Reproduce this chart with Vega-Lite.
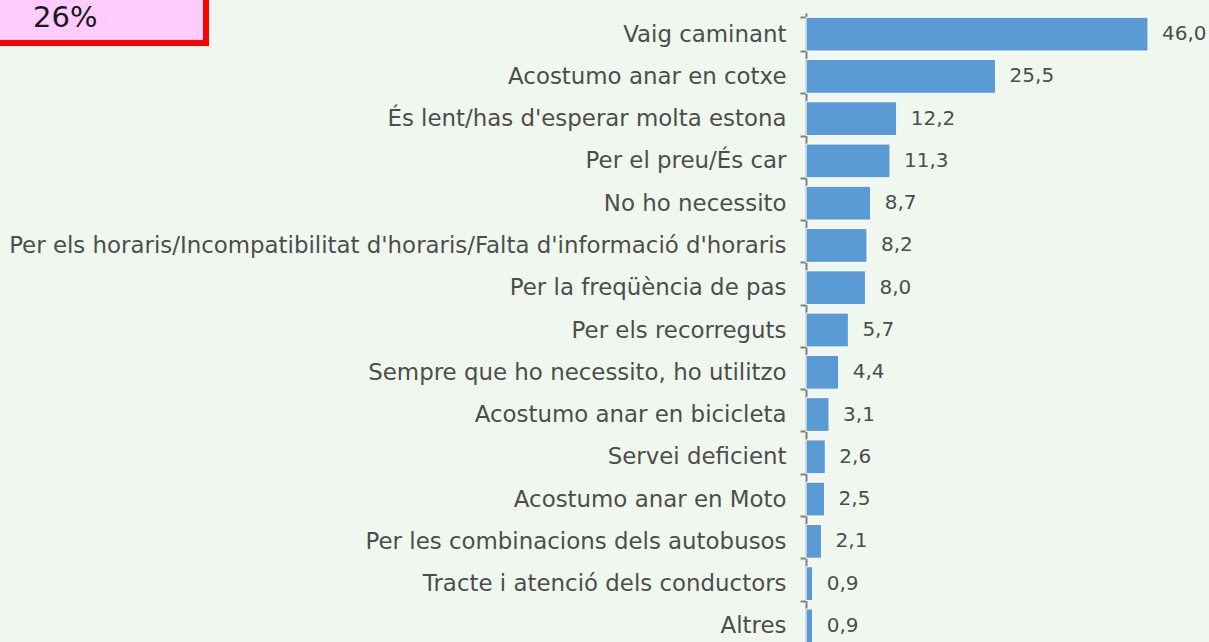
{
  "$schema": "https://vega.github.io/schema/vega-lite/v6.json",
  "autosize": {"type": "none"},
  "padding": {"left": 806, "top": 13, "right": 61, "bottom": 0},
  "width": 342,
  "height": 634,
  "background": "#f0f7ee",
  "config": {
    "locale": {"number": {"decimal": ",", "thousands": ".", "grouping": [3], "currency": ["", " €"]}},
    "view": {"stroke": null},
    "font": "DejaVu Sans",
    "legend": {"strokeWidth": 6}
  },
  "data": {
    "values": [
      {"motiu": "Vaig caminant", "pct": 46.0},
      {"motiu": "Acostumo anar en cotxe", "pct": 25.5},
      {"motiu": "És lent/has d'esperar molta estona", "pct": 12.2},
      {"motiu": "Per el preu/És car", "pct": 11.3},
      {"motiu": "No ho necessito", "pct": 8.7},
      {"motiu": "Per els horaris/Incompatibilitat d'horaris/Falta d'informació d'horaris", "pct": 8.2},
      {"motiu": "Per la freqüència de pas", "pct": 8.0},
      {"motiu": "Per els recorreguts", "pct": 5.7},
      {"motiu": "Sempre que ho necessito, ho utilitzo", "pct": 4.4},
      {"motiu": "Acostumo anar en bicicleta", "pct": 3.1},
      {"motiu": "Servei deficient", "pct": 2.6},
      {"motiu": "Acostumo anar en Moto", "pct": 2.5},
      {"motiu": "Per les combinacions dels autobusos", "pct": 2.1},
      {"motiu": "Tracte i atenció dels conductors", "pct": 0.9},
      {"motiu": "Altres", "pct": 0.9}
    ]
  },
  "encoding": {
    "y": {
      "field": "motiu",
      "type": "nominal",
      "sort": null,
      "scale": {"paddingInner": 0.2, "paddingOuter": 0.1},
      "axis": {
        "title": null,
        "domainColor": "#808080",
        "domainWidth": 2,
        "tickColor": "#808080",
        "tickWidth": 2,
        "tickSize": 6,
        "tickBand": "extent",
        "labelPadding": 14,
        "labelFontSize": 22.9,
        "labelColor": "#4d4d4d",
        "labelLimit": 900
      }
    },
    "x": {
      "field": "pct",
      "type": "quantitative",
      "scale": {"domain": [0, 46], "nice": false},
      "axis": null
    }
  },
  "layer": [
    {
      "mark": {"type": "bar", "stroke": "#ffffff", "strokeWidth": 1},
      "encoding": {
        "color": {
          "datum": "26%",
          "scale": {"range": ["#5b9bd5"]},
          "legend": {
            "orient": "none",
            "legendX": -820,
            "legendY": -20,
            "title": " ",
            "titleOrient": "right",
            "titlePadding": 99,
            "titleFontSize": 10,
            "padding": 10,
            "fillColor": "#ffccff",
            "strokeColor": "#ff0000",
            "symbolOpacity": 0,
            "symbolSize": 400,
            "labelOffset": 8,
            "labelFontSize": 29,
            "labelColor": "#1a1a1a"
          }
        }
      }
    },
    {
      "mark": {"type": "text", "align": "left", "baseline": "middle", "dx": 14, "fontSize": 20, "color": "#4d4d4d"},
      "encoding": {
        "text": {"field": "pct", "type": "quantitative", "format": ".1f"}
      }
    }
  ]
}
